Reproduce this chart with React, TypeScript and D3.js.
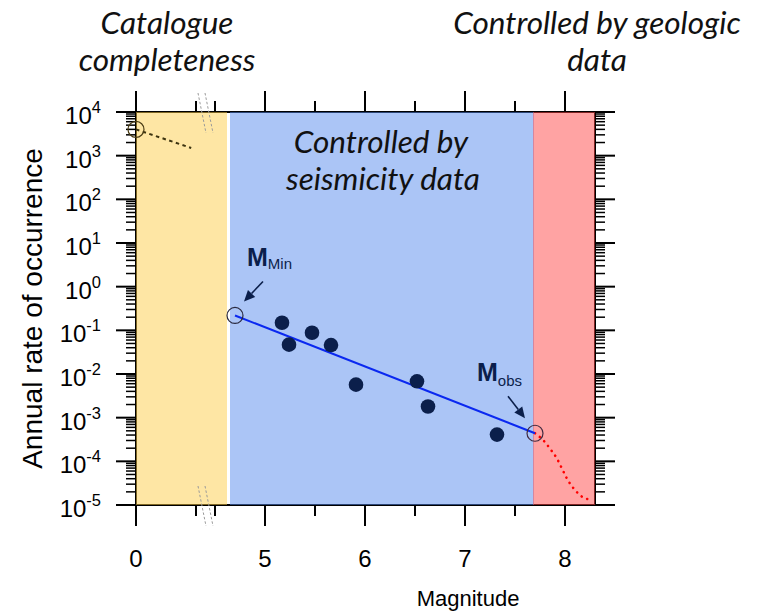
import React from 'react';
import * as d3 from 'd3';

const W = 758;
const H = 613;
const plot = { left: 136, right: 595, top: 112, bottom: 505 };

// Magnitude axis is broken between 0.5 and 4.5
const magDomain = [0, 0.5, 4.5, 8.3];
const majorMagTicks = [0, 5, 6, 7, 8];
const minorMagTicks = [0.5, 4.5, 5.5, 6.5, 7.5];
const rateExponents = [4, 3, 2, 1, 0, -1, -2, -3, -4, -5];

// Regions of the magnitude range
const catalogueRange = [0, 4.62];
const seismicityRange = [4.65, 7.69];
const geologicRange = [7.68, 8.3];

// Observed earthquake rates
const observedMags = [5.17, 5.24, 5.47, 5.66, 5.91, 6.52, 6.63, 7.32];
const observedRates = [0.149, 0.047, 0.088, 0.046, 0.0057, 0.0068, 0.0018, 0.00041];

// Gutenberg-Richter fit between M_min and M_obs
const mMin = 4.7;
const rateMin = 0.219;
const mObs = 7.7;
const rateObs = 0.00044;

// Geologically constrained tail
const tailMags = [7.7, 7.8, 7.85, 7.92, 7.97, 8.02, 8.1, 8.18, 8.28];
const tailRates = [0.00044, 0.000275, 0.000195, 0.000115, 0.000068, 0.00004, 0.000022, 0.000015, 0.000013];

// Incomplete catalogue segment
const catMags = [0, 0.46];
const catRates = [4000, 1500];

const x = d3
  .scaleLinear()
  .domain(magDomain)
  .range([plot.left, plot.left + 60, plot.left + 79, plot.right]);
const y = d3.scaleLog().domain([1e-5, 1e4]).range([plot.bottom, plot.top]);

const minorRates: number[] = [];
for (let e = -5; e < 4; e++) {
  for (let k = 2; k <= 9; k++) minorRates.push(k * Math.pow(10, e));
}

const ink = '#000';
const navy = '#0b1f4b';
const sans = '"Liberation Sans", Arial, sans-serif';
const hum = 'Lato, "Open Sans", sans-serif';

const line = d3
  .line<[number, number]>()
  .x((d) => x(d[0]))
  .y((d) => y(d[1]));
const tailLine = d3
  .line<[number, number]>()
  .x((d) => x(d[0]))
  .y((d) => y(d[1]))
  .curve(d3.curveMonotoneX);

function Arrow({ x1, y1, x2, y2 }: { x1: number; y1: number; x2: number; y2: number }) {
  const ang = Math.atan2(y2 - y1, x2 - x1);
  const len = 11;
  const half = 5;
  const bx = x2 - len * Math.cos(ang);
  const by = y2 - len * Math.sin(ang);
  const px = -Math.sin(ang) * half;
  const py = Math.cos(ang) * half;
  return (
    <g>
      <line x1={x1} y1={y1} x2={bx} y2={by} stroke={navy} strokeWidth={1.6} />
      <polygon points={`${x2},${y2} ${bx + px},${by + py} ${bx - px},${by - py}`} fill={navy} />
    </g>
  );
}

export default function App() {
  const breakX = (x(0.5) + x(4.5)) / 2;
  const minX = x(mMin);
  const minY = y(rateMin);
  const obsX = x(mObs);
  const obsY = y(rateObs);

  const regions = [
    { r: catalogueRange, c: 'rgb(253,205,73)' },
    { r: seismicityRange, c: 'rgb(87,139,237)' },
    { r: geologicRange, c: 'rgb(255,71,71)' },
  ];

  const breakMarks = [plot.top - 19, plot.bottom - 19].map((y0) =>
    [-3.5, 3.5].map((dx) => ({ x1: breakX + dx - 4, y1: y0, x2: breakX + dx + 4, y2: y0 + 40 }))
  );

  return (
    <svg width={W} height={H} style={{ position: 'absolute', left: 0, top: 0, background: '#fff' }}>
      {/* frame */}
      <g stroke={ink} strokeWidth={2} fill="none">
        <line x1={plot.left} x2={plot.right} y1={plot.top} y2={plot.top} />
        <line x1={plot.left} x2={plot.right} y1={plot.bottom} y2={plot.bottom} />
        <line x1={plot.left} x2={plot.left} y1={plot.top} y2={plot.bottom} />
        <line x1={plot.right} x2={plot.right} y1={plot.top} y2={plot.bottom} />
      </g>

      {/* magnitude ticks, bottom and top */}
      <g stroke={ink}>
        {majorMagTicks.map((m) => (
          <g key={'M' + m} strokeWidth={2}>
            <line x1={x(m)} x2={x(m)} y1={plot.bottom} y2={plot.bottom + 21} />
            <line x1={x(m)} x2={x(m)} y1={plot.top} y2={plot.top - 21} />
          </g>
        ))}
        {minorMagTicks.map((m) => (
          <g key={'m' + m} strokeWidth={2}>
            <line x1={x(m)} x2={x(m)} y1={plot.bottom} y2={plot.bottom + 11} />
            <line x1={x(m)} x2={x(m)} y1={plot.top} y2={plot.top - 11} />
          </g>
        ))}
      </g>

      {/* rate ticks, left and right */}
      <g stroke={ink}>
        {rateExponents.map((e) => {
          const yy = y(Math.pow(10, e));
          return (
            <g key={'E' + e} strokeWidth={2}>
              <line x1={plot.left - 20} x2={plot.left} y1={yy} y2={yy} />
              <line x1={plot.right} x2={plot.right + 20} y1={yy} y2={yy} />
            </g>
          );
        })}
        {minorRates.map((r, i) => {
          const yy = y(r);
          return (
            <g key={'e' + i} strokeWidth={1.5}>
              <line x1={plot.left - 10} x2={plot.left} y1={yy} y2={yy} />
              <line x1={plot.right} x2={plot.right + 10} y1={yy} y2={yy} />
            </g>
          );
        })}
      </g>

      {/* magnitude regions */}
      {regions.map((g, i) => (
        <rect
          key={i}
          x={x(g.r[0])}
          y={plot.top}
          width={x(g.r[1]) - x(g.r[0])}
          height={plot.bottom - plot.top}
          fill={g.c}
          fillOpacity={0.5}
        />
      ))}

      {/* axis break marks */}
      <g stroke="#9a9a9a" strokeWidth={1} strokeDasharray="2.5 2">
        {breakMarks.flat().map((b, i) => (
          <line key={i} {...b} />
        ))}
      </g>

      {/* tick labels */}
      <g fontFamily={sans} fill={ink}>
        {majorMagTicks.map((m) => (
          <text key={m} x={x(m)} y={plot.bottom + 62} fontSize={24} textAnchor="middle">
            {m}
          </text>
        ))}
        {rateExponents.map((e) => (
          <text key={e} x={101} y={y(Math.pow(10, e)) + 12} fontSize={24} textAnchor="end">
            10
            <tspan dy={-11} fontSize={16.5}>
              {e}
            </tspan>
          </text>
        ))}
      </g>

      {/* axis titles */}
      <text x={468} y={606} fontFamily={sans} fontSize={22} textAnchor="middle" fill={ink}>
        Magnitude
      </text>
      <text
        transform={`translate(42,${(plot.top + plot.bottom) / 2}) rotate(-90)`}
        fontFamily={sans}
        fontSize={28}
        textAnchor="middle"
        fill={ink}
      >
        Annual rate of occurrence
      </text>

      {/* region annotations */}
      <g fontFamily={hum} fontStyle="italic" fontSize={31.5} fill="#111" textAnchor="middle">
        <text x={167} y={34}>Catalogue</text>
        <text x={167} y={71}>completeness</text>
        <text x={597} y={34}>Controlled by geologic</text>
        <text x={597} y={71}>data</text>
        <text x={381} y={153}>Controlled by</text>
        <text x={383} y={190}>seismicity data</text>
      </g>

      {/* incomplete catalogue trend */}
      <path
        d={line(catMags.map((m, i) => [m, catRates[i]]) as [number, number][]) || ''}
        fill="none"
        stroke="#3d3410"
        strokeWidth={2}
        strokeDasharray="3.5 3.5"
      />
      <circle cx={x(catMags[0])} cy={y(catRates[0])} r={8} fill="none" stroke="#4a3c14" strokeWidth={1.2} />

      {/* geologic tail */}
      <path
        d={tailLine(tailMags.map((m, i) => [m, tailRates[i]]) as [number, number][]) || ''}
        fill="none"
        stroke="#ff0000"
        strokeWidth={2.6}
        strokeLinecap="round"
        strokeDasharray="0.1 6"
      />

      {/* Gutenberg-Richter line */}
      <path
        d={line([
          [mMin, rateMin],
          [mObs, rateObs],
        ]) || ''}
        fill="none"
        stroke="#0a28f0"
        strokeWidth={2}
      />

      {/* observed rates */}
      {observedMags.map((m, i) => (
        <circle key={i} cx={x(m)} cy={y(observedRates[i])} r={7.3} fill={navy} />
      ))}

      {/* M_min / M_obs markers */}
      <circle cx={minX} cy={minY} r={8} fill="none" stroke="#2a2a40" strokeWidth={1.2} />
      <circle cx={obsX} cy={obsY} r={8} fill="none" stroke="#402a40" strokeWidth={1.2} />

      <g fontFamily={sans} fill={navy}>
        <text x={minX + 12} y={minY - 49} fontSize={25} fontWeight="bold">
          M
          <tspan fontSize={15} fontWeight="normal" dy={3}>
            Min
          </tspan>
        </text>
        <text x={obsX - 58} y={obsY - 52} fontSize={25} fontWeight="bold">
          M
          <tspan fontSize={15} fontWeight="normal" dy={5}>
            obs
          </tspan>
        </text>
      </g>
      <Arrow x1={minX + 28} y1={minY - 34} x2={minX + 9} y2={minY - 14} />
      <Arrow x1={obsX - 27} y1={obsY - 37} x2={obsX - 10} y2={obsY - 15} />
    </svg>
  );
}
